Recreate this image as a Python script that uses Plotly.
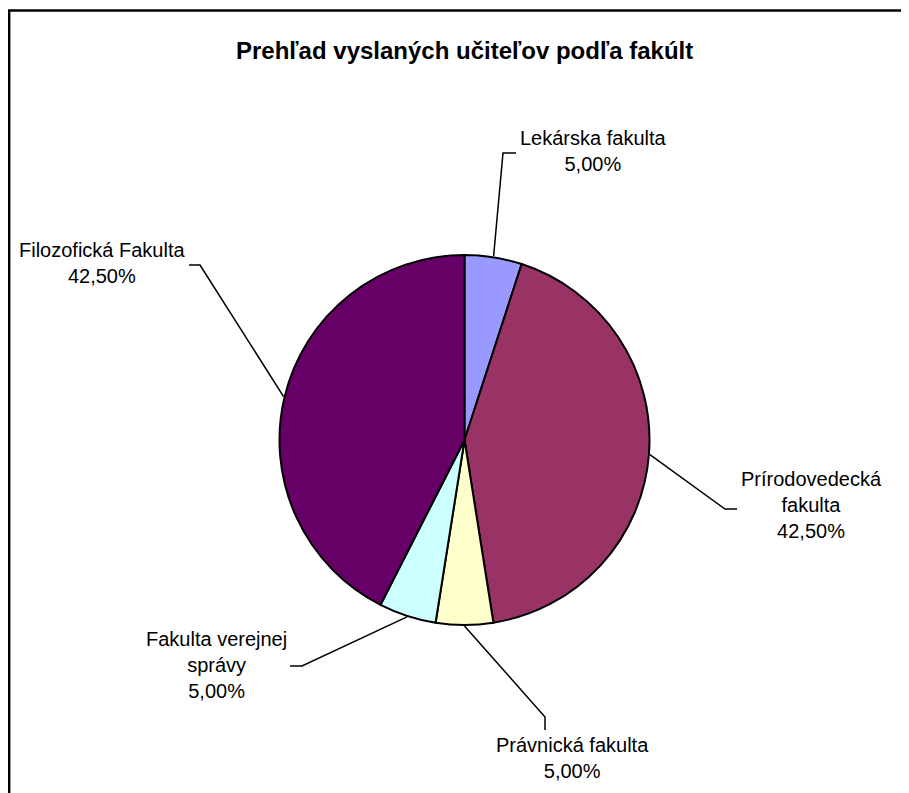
import math
import plotly.graph_objects as go

# ---- data ----
faculties = ["Lekárska fakulta", "Prírodovedecká fakulta", "Právnická fakulta",
             "Fakulta verejnej správy", "Filozofická Fakulta"]
teachers = [2, 17, 2, 2, 17]
colors = ["#9999FF", "#993366", "#FFFFCC", "#CCFFFF", "#660066"]
label_lines = [["Lekárska fakulta"], ["Prírodovedecká", "fakulta"], ["Právnická fakulta"],
               ["Fakulta verejnej", "správy"], ["Filozofická Fakulta"]]
title_text = "Prehľad vyslaných učiteľov podľa fakúlt"

# ---- layout (pixel space of the page) ----
W, H = 909, 793
OFF = 8  # page body margin
CX, CY, R = 464.5, 440, 185
label_pos = [(593, 151), (811, 505), (572, 758), (216, 665), (102, 263)]
elbows = [(503, 153), (725, 509), (545, 717), (302, 666), (200, 265)]
ends = [(516, 153), (737, 509), (545, 730), (290, 666), (189, 265)]

total = sum(teachers)
pct = [v / total * 100 for v in teachers]

fig = go.Figure()
px0, py0 = CX - OFF, CY - OFF
fig.add_trace(go.Pie(
    labels=faculties, values=teachers, sort=False, direction="clockwise", rotation=0,
    marker=dict(colors=colors, line=dict(color="black", width=2)),
    textinfo="none", hoverinfo="skip", showlegend=False,
    domain=dict(x=[(px0 - R) / W, (px0 + R) / W], y=[(H - py0 - R) / H, (H - py0 + R) / H]),
))

fig.add_trace(go.Scatter(x=[OFF, W], y=[OFF, H], mode="markers", marker=dict(opacity=0),
                         hoverinfo="skip", showlegend=False))

shapes = [dict(type="rect", xref="x", yref="y", x0=9.2, y0=10.5, x1=W + 40, y1=H + 40,
               line=dict(color="black", width=2.4), fillcolor="rgba(0,0,0,0)")]
annotations = []
cum = 0.0
font = dict(family="Arial, Liberation Sans, sans-serif", size=20, color="black")
for i, v in enumerate(teachers):
    mid = (cum + v / 2) / total * 2 * math.pi
    cum += v
    sx = CX + (R + 1) * math.sin(mid)
    sy = CY - (R + 1) * math.cos(mid)
    ex, ey = elbows[i]
    tx, ty = ends[i]
    shapes.append(dict(type="path", xref="x", yref="y",
                       path=f"M {sx:.1f},{sy:.1f} L {ex},{ey} L {tx},{ty}",
                       line=dict(color="black", width=1.5)))
    text = "<br>".join(label_lines[i] + [f"{pct[i]:.2f}".replace(".", ",") + "%"])
    lx, ly = label_pos[i]
    annotations.append(dict(x=lx, y=ly, xref="x", yref="y", text=text, showarrow=False,
                            xanchor="center", yanchor="middle", align="center", font=font))

annotations.append(dict(x=464.5, y=50, xref="x", yref="y", text=f"<b>{title_text}</b>",
                        showarrow=False, xanchor="center", yanchor="middle",
                        font=dict(family="Arial, Liberation Sans, sans-serif", size=24, color="black")))

fig.update_layout(
    width=W, height=H, margin=dict(l=0, r=0, t=0, b=0),
    paper_bgcolor="white", plot_bgcolor="rgba(0,0,0,0)",
    xaxis=dict(range=[OFF, W + OFF], visible=False, domain=[0, 1], fixedrange=True),
    yaxis=dict(range=[H + OFF, OFF], visible=False, domain=[0, 1], fixedrange=True),
    shapes=shapes, annotations=annotations, showlegend=False,
)
fig.write_html("out.html")
